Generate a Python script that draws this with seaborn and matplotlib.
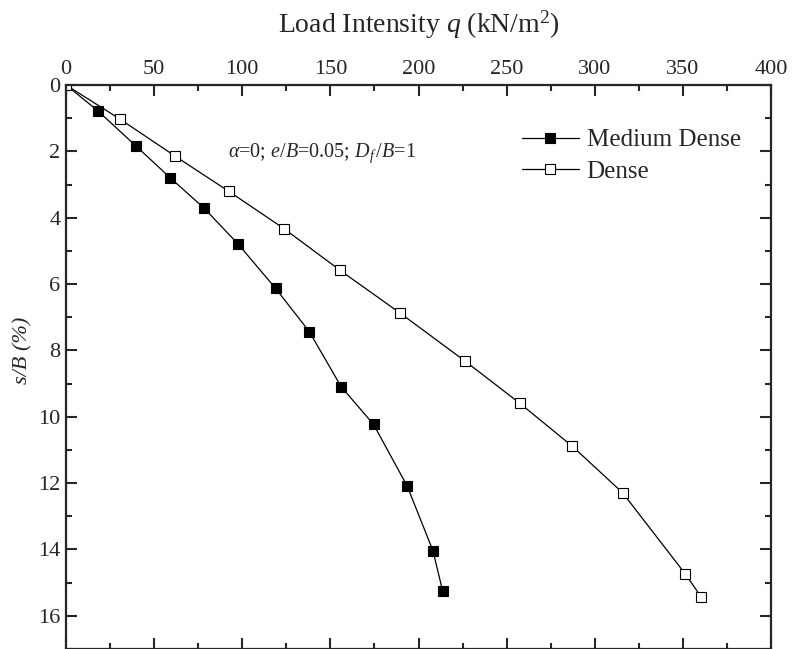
import matplotlib
matplotlib.use("Agg")
import matplotlib.pyplot as plt
from matplotlib.ticker import MultipleLocator
import seaborn as sns
import pandas as pd

# load intensity q (kN/m2) and settlement ratio s/B (%)
medium_q = [0, 17.9, 39.5, 59.2, 78.3, 97.6, 118.9, 138.0, 156.2, 174.5, 193.6, 208.2, 213.7]
medium_s = [0, 0.77, 1.83, 2.80, 3.71, 4.79, 6.13, 7.43, 9.10, 10.23, 12.09, 14.04, 15.25]
dense_q = [0, 30.4, 61.8, 92.5, 123.7, 155.6, 189.7, 226.6, 257.4, 287.3, 315.8, 351.4, 360.5]
dense_s = [0, 1.02, 2.14, 3.21, 4.33, 5.59, 6.88, 8.33, 9.59, 10.89, 12.29, 14.74, 15.44]
x_ticks = [0, 50, 100, 150, 200, 250, 300, 350, 400]
y_ticks = [0, 2, 4, 6, 8, 10, 12, 14, 16]

sns.set_style("ticks")
plt.rcParams['font.family'] = ['Liberation Serif', 'DejaVu Serif']
plt.rcParams['mathtext.fontset'] = 'custom'
plt.rcParams['mathtext.rm'] = 'Liberation Serif'
plt.rcParams['mathtext.it'] = 'Liberation Serif:italic'
plt.rcParams['mathtext.bf'] = 'Liberation Serif:bold'

medium_df = pd.DataFrame({'q': medium_q, 's': medium_s})
dense_df = pd.DataFrame({'q': dense_q, 's': dense_s})

fig = plt.figure(figsize=(7.92, 6.49), dpi=100)
ax = fig.add_axes([66 / 792, 0.0, 705 / 792, 564 / 649])

sns.lineplot(data=medium_df, x='q', y='s', sort=False, ax=ax, color='black',
             linewidth=0.9, marker='s', markersize=7.5, markerfacecolor='black',
             markeredgecolor='black', markeredgewidth=0.8, label='Medium Dense')
sns.lineplot(data=dense_df, x='q', y='s', sort=False, ax=ax, color='black',
             linewidth=0.9, marker='s', markersize=7.5, markerfacecolor='white',
             markeredgecolor='black', markeredgewidth=0.8, label='Dense')

ax.set_xlim(0, 400)
ax.set_ylim(17, 0)
ax.set_xticks(x_ticks)
ax.set_yticks(y_ticks)
ax.xaxis.set_minor_locator(MultipleLocator(25))
ax.yaxis.set_minor_locator(MultipleLocator(1))
ax.xaxis.tick_top()
ax.xaxis.set_label_position('top')
ax.tick_params(which='both', direction='in', top=True, bottom=True, left=True, right=True,
               labeltop=True, labelbottom=False, width=1.5)
ax.tick_params(which='major', length=8, labelsize=16, pad=4)
ax.tick_params(which='minor', length=4.5)
for sp in ax.spines.values():
    sp.set_linewidth(1.6)

ax.set_xlabel('Load Intensity $q$ (kN/m$^2$)', fontsize=20, labelpad=20)
ax.set_ylabel('s/B (%)', fontsize=16, style='italic')
ax.yaxis.set_label_coords(-0.047, 0.53)

ax.text(92, 2.05, r'$\alpha$=0; $e/B$=0.05; $D_f\,/B$=1', fontsize=14.5, va='center', ha='left')

ax.legend(loc='upper left', bbox_to_anchor=(0.632, 0.94), frameon=False, fontsize=18,
          handlelength=2.3, handletextpad=0.3, labelspacing=0.35, borderaxespad=0)

fig.savefig('out.png', dpi=100)
